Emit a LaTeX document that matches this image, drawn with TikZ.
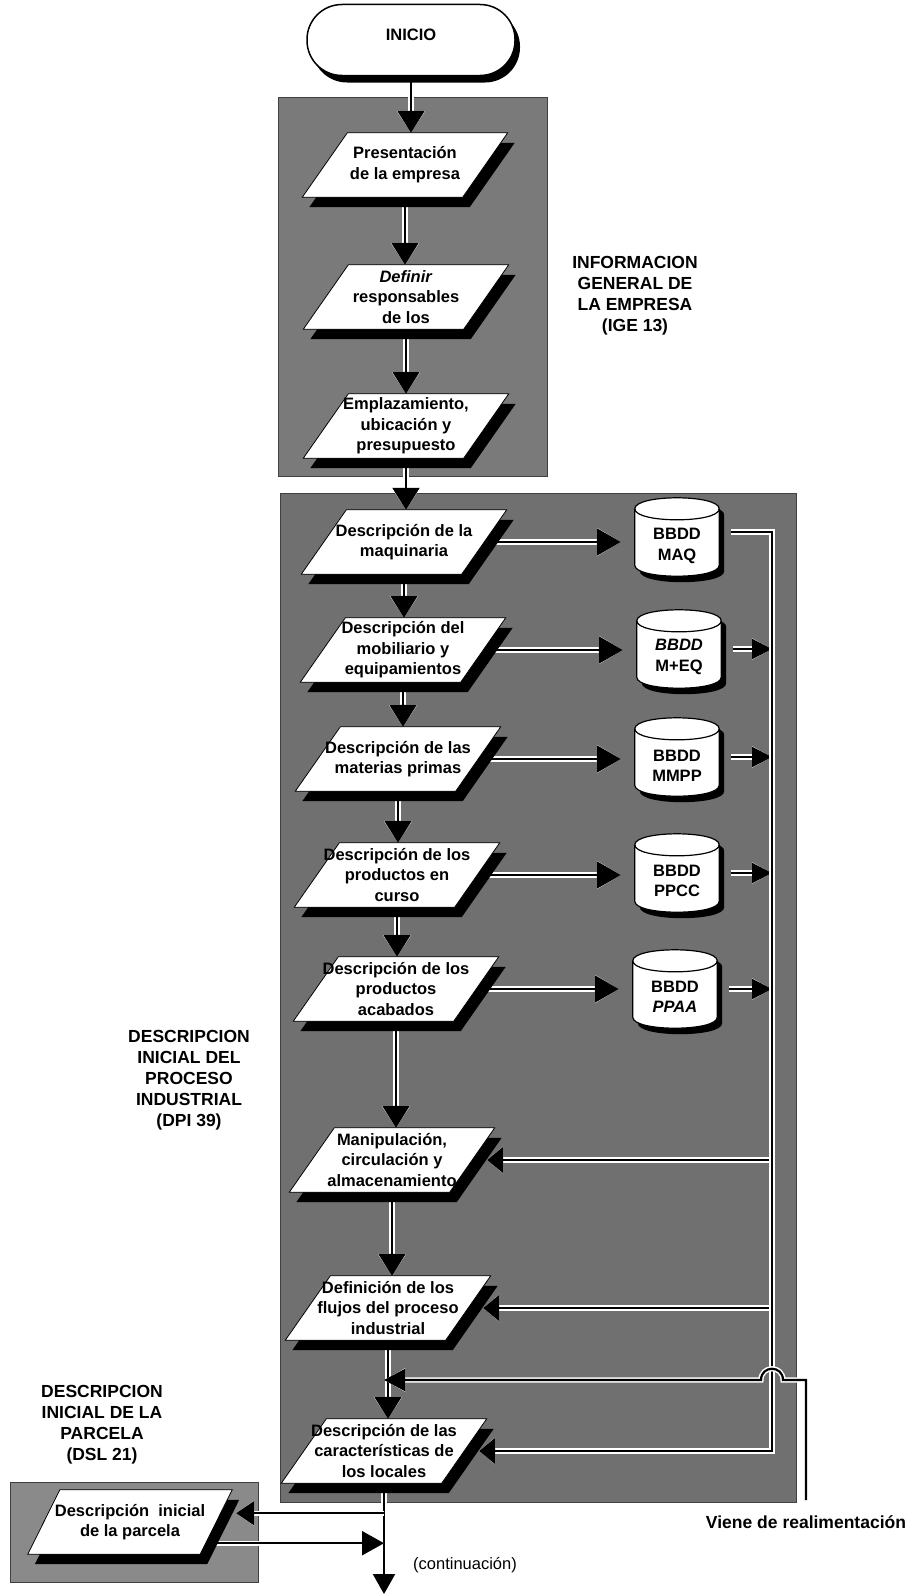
\documentclass[tikz,border=0pt]{standalone}
\usepackage{fontspec}
\setmainfont{Liberation Sans}
\usetikzlibrary{arrows.meta,calc,shadows}
\pgfdeclarelayer{back}
\pgfdeclarelayer{conn}
\pgfdeclarelayer{shapes}
\pgfsetlayers{back,conn,shapes,main}

\newcommand\boxfont{\fontsize{16.5}{20.5}\selectfont\bfseries}
\newcommand\lblfont{\fontsize{17.5}{21}\selectfont\bfseries}
\newcommand\contfont{\fontsize{16.5}{20}\selectfont}

\tikzset{
  pbox/.style={rectangle, inner sep=0pt, minimum width=160pt, minimum height=64pt, align=center, font=\boxfont},
  cbox/.style={rectangle, inner sep=0pt, minimum width=84pt, minimum height=78pt},
  ctext/.style={align=center, font=\boxfont, inner sep=0pt},
  lbl/.style={align=center, font=\lblfont, inner sep=0pt},
  wire/.style={draw=black, line width=2.2pt, preaction={draw=white, line width=5.2pt}},
  arrV/.style={-{Triangle[width=27pt,length=22pt]}},
  arrH/.style={-{Triangle[width=27pt,length=24pt]}},
  arrS/.style={-{Triangle[width=20pt,length=20pt]}},
  arrF/.style={-{Triangle[width=26pt,length=16pt]}, shorten >=15pt},
  arrL/.style={-{Triangle[width=22pt,length=21pt]}},
  arrB/.style={-{Triangle[width=22pt,length=20pt]}},
  gbox/.style={draw=black!75, line width=0.6pt},
}

\newcommand\myconn[2]{%
  \begin{pgfonlayer}{conn}\draw[wire,#1] #2;\end{pgfonlayer}}

\newcommand\drawpara[2][45]{%
  \begin{pgfonlayer}{shapes}
  \fill[black] ($(#2.north west)+(#1/2+7,10)$) -- ($(#2.north east)+(#1/2+7,10)$) -- ($(#2.south east)+(-#1/2+7,10)$) -- ($(#2.south west)+(-#1/2+7,10)$) -- cycle;
  \draw[fill=white, line width=0.8pt] ($(#2.north west)+(#1/2,0)$) -- ($(#2.north east)+(#1/2,0)$) -- ($(#2.south east)+(-#1/2,0)$) -- ($(#2.south west)+(-#1/2,0)$) -- cycle;
  \end{pgfonlayer}}

\newcommand\cylpath[4]{\path[#4] ($(#1.north west)+(#2,11+#3)$) -- ($(#1.south west)+(#2,-11+#3)$) .. controls ($(#1.south west)+(#2,3.67+#3)$) and ($(#1.south east)+(#2,3.67+#3)$) .. ($(#1.south east)+(#2,-11+#3)$) -- ($(#1.north east)+(#2,11+#3)$) .. controls ($(#1.north east)+(#2,-3.67+#3)$) and ($(#1.north west)+(#2,-3.67+#3)$) .. ($(#1.north west)+(#2,11+#3)$) -- cycle;}

\newcommand\drawcyl[1]{%
  \begin{pgfonlayer}{shapes}
  \cylpath{#1}{5}{6}{fill=black}
  \cylpath{#1}{0}{0}{draw=black,fill=white,line width=1.2pt}
  \draw[line width=1.2pt] ($(#1.north west)+(0,11)$) .. controls ($(#1.north west)+(0,25.67)$) and ($(#1.north east)+(0,25.67)$) .. ($(#1.north east)+(0,11)$);
  \end{pgfonlayer}}

\begin{document}
\begin{tikzpicture}[x=1pt,y=-1pt]
\useasboundingbox (0,0) rectangle (906,1595);
\begin{pgfonlayer}{back}
\fill[white] (0,0) rectangle (906,1595);
\filldraw[gbox, fill=black!52] (278,97) rectangle (547,476);
\filldraw[gbox, fill=black!56] (280,493) rectangle (796,1502);
\filldraw[gbox, fill=black!46] (10,1482) rectangle (258,1582);
\end{pgfonlayer}

% start
\node[draw, line width=1.5pt, fill=white, rounded corners=35pt, minimum width=208pt, minimum height=71pt, inner sep=0pt, font=\boxfont, drop shadow={shadow xshift=5pt, shadow yshift=-7pt, fill=black, opacity=1}] (inicio) at (411,40) {\raisebox{10pt}{INICIO}};

% process boxes
\node[pbox] (p1) at (405,165) {\raisebox{4pt}{\begin{tabular}{@{}c@{}}Presentación\\de la empresa\end{tabular}}}; \drawpara{p1}
\node[pbox] (p2) at (406,297) {\textit{Definir}\\responsables\\de los}; \drawpara{p2}
\node[pbox] (p3) at (406,426) {Emplazamiento,\\ubicación y\\presupuesto}; \drawpara{p3}
\node[pbox] (p4) at (404,542) {Descripción de la\\maquinaria}; \drawpara{p4}
\node[pbox] (p5) at (403,650) {Descripción del\\mobiliario y\\equipamientos}; \drawpara{p5}
\node[pbox] (p6) at (398,759) {Descripción de las\\materias primas}; \drawpara{p6}
\node[pbox] (p7) at (397,875) {Descripción de los\\productos en\\curso}; \drawpara{p7}
\node[pbox] (p8) at (396,989) {Descripción de los\\productos\\acabados}; \drawpara{p8}
\node[pbox] (p9) at (392,1160) {Manipulación,\\circulación y\\almacenamiento}; \drawpara{p9}
\node[pbox] (p10) at (388,1308) {Definición de los\\flujos del proceso\\industrial}; \drawpara{p10}
\node[pbox] (p11) at (384,1451) {Descripción de las\\características de\\los locales}; \drawpara{p11}
\node[pbox, minimum width=172pt] (p12) at (130,1522) {Descripción\hspace{0.55em}inicial\\de la parcela}; \drawpara[32]{p12}

% databases
\node[cbox] (maq) at (677,537) {}; \drawcyl{maq}
\node[ctext] (maqt) at (677,546) {BBDD\\MAQ};
\node[cbox] (meq) at (679,649) {}; \drawcyl{meq}
\node[ctext] (meqt) at (679,657) {\textit{BBDD}\\M+EQ};
\node[cbox] (mmpp) at (677,757) {}; \drawcyl{mmpp}
\node[ctext] (mmppt) at (677,766) {BBDD\\MMPP};
\node[cbox] (ppcc) at (677,873) {}; \drawcyl{ppcc}
\node[ctext] (ppcct) at (677,881) {BBDD\\PPCC};
\node[cbox] (ppaa) at (675,989) {}; \drawcyl{ppaa}
\node[ctext] (ppaat) at (675,997) {BBDD\\\textit{PPAA}};

% labels
\node[lbl] (lige) at (635,296) {INFORMACION\\GENERAL DE\\LA EMPRESA\\(IGE 13)};
\node[lbl] (ldpi) at (189,1080) {DESCRIPCION\\INICIAL DEL\\PROCESO\\INDUSTRIAL\\(DPI 39)};
\node[lbl] (ldsl) at (102,1425) {DESCRIPCION\\INICIAL DE LA\\PARCELA\\(DSL 21)};
\node[lbl] (lviene) at (806,1522) {Viene de realimentación};
\node[font=\contfont, inner sep=0pt] (lcont) at (465,1565) {(continuación)};

% coordinates
\coordinate (vtop) at (772,532);
\coordinate (vr) at (806,1500);
\coordinate (vc) at (806,1380);
\coordinate (cont) at (384,1594);
\path (p11.south) ++(0,30) coordinate (j1) ++(0,30) coordinate (j2);

% feedback
\myconn{arrF}{(vtop |- p9.east) -- (p9.east)}
\myconn{arrF}{(vtop |- p10.east) -- (p10.east)}
\myconn{arrS, shorten <=12pt}{(meq.east) -- (meq.east -| vtop)}
\myconn{arrS, shorten <=12pt}{(mmpp.east) -- (mmpp.east -| vtop)}
\myconn{arrS, shorten <=12pt}{(ppcc.east) -- (ppcc.east -| vtop)}
\myconn{arrS, shorten <=12pt}{(ppaa.east) -- (ppaa.east -| vtop)}
\myconn{arrF, shorten <=12pt}{([yshift=5pt]maq.east) -| (vtop |- p11.east) -- (p11.east)}

% main column
\myconn{arrV}{(inicio.south) -- (inicio.south |- p1.north)}
\myconn{arrV}{(p1.south) -- (p1.south |- p2.north)}
\myconn{arrV}{(p2.south) -- (p2.south |- p3.north)}
\myconn{arrV}{(p3.south) -- (p3.south |- p4.north)}
\myconn{arrV}{(p4.south) -- (p4.south |- p5.north)}
\myconn{arrV}{(p5.south) -- (p5.south |- p6.north)}
\myconn{arrV}{(p6.south) -- (p6.south |- p7.north)}
\myconn{arrV}{(p7.south) -- (p7.south |- p8.north)}
\myconn{arrV}{(p8.south) -- (p8.south |- p9.north)}
\myconn{arrV}{(p9.south) -- (p9.south |- p10.north)}
\myconn{arrV}{(p10.south) -- (p10.south |- p11.north)}
\myconn{arrB}{(p11.south) -- (p11.south |- cont)}

% to databases
\myconn{arrH, shorten >=14pt}{(p4.east) -- (p4.east -| maq.west)}
\myconn{arrH, shorten >=14pt}{(p5.east) -- (p5.east -| meq.west)}
\myconn{arrH, shorten >=14pt}{(p6.east) -- (p6.east -| mmpp.west)}
\myconn{arrH, shorten >=14pt}{(p7.east) -- (p7.east -| ppcc.west)}
\myconn{arrH, shorten >=14pt}{(p8.east) -- (p8.east -| ppaa.west)}

% viene de realimentacion
\myconn{arrL}{(vr) -- (vc) -- ($(vtop|-vc)+(11,0)$) .. controls +(0,-15) and +(0,-15) .. ($(vtop|-vc)+(-11,0)$) -- (p11.north |- vc)}

% parcela
\myconn{-{Triangle[width=24pt,length=18pt]}, shorten >=20pt}{(j1) -- (j1 -| p12.east)}
\myconn{-{Triangle[width=24pt,length=22pt]}}{(j2 -| p12.east) -- (j2)}
\end{tikzpicture}
\end{document}
